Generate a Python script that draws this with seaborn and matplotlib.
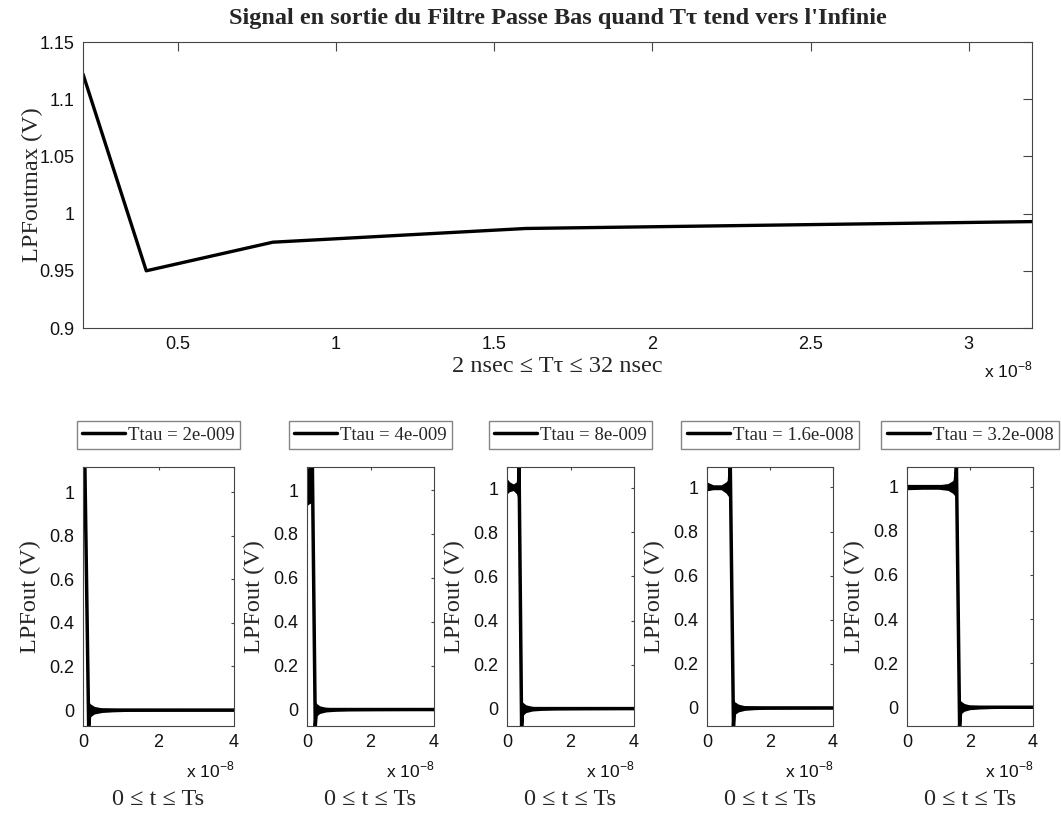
import matplotlib

matplotlib.use("Agg")

import matplotlib.pyplot as plt  # noqa: E402
import seaborn as sns  # noqa: E402
from matplotlib.ticker import FuncFormatter  # noqa: E402

# Valeurs (temps en unites de 1e-8 s)
TTAU_X = [0.2, 0.4, 0.8, 1.6, 3.2]
LPF_MAX = [1.122, 0.950, 0.975, 0.987, 0.993]
TTAU_LABELS = ["2e-009", "4e-009", "8e-009", "1.6e-008", "3.2e-008"]

# trace principale de chaque impulsion filtree
EDGE_T = [
    [0.00, 0.03, 0.05, 0.15, 0.19, 4.00],
    [0.00, 0.12, 0.17, 0.26, 0.30, 4.00],
    [0.00, 0.36, 0.38, 0.46, 0.50, 4.00],
    [0.00, 0.70, 0.74, 0.84, 0.88, 4.00],
    [0.00, 1.52, 1.57, 1.67, 1.71, 4.00],
]
EDGE_V = [
    [0.89, 1.115, 1.115, -0.073, 0.0, 0.0],
    [0.95, 1.02, 1.105, -0.075, 0.0, 0.0],
    [1.00, 1.00, 1.097, -0.079, 0.0, 0.0],
    [1.00, 1.00, 1.093, -0.082, 0.0, 0.0],
    [1.00, 1.00, 1.089, -0.085, 0.0, 0.0],
]

# enveloppe des oscillations pendant l'impulsion
HIGH_T = [
    [0.00, 0.03],
    [0.00, 0.10, 0.18],
    [0.00, 0.08, 0.20, 0.30, 0.37],
    [0.00, 0.20, 0.45, 0.60, 0.73],
    [0.00, 0.50, 1.00, 1.30, 1.45, 1.57],
]
HIGH_LO = [
    [0.89, 0.90],
    [0.93, 0.94, 0.94],
    [0.975, 0.985, 0.99, 0.975, 0.945],
    [0.985, 0.99, 0.99, 0.975, 0.95],
    [0.986, 0.988, 0.988, 0.983, 0.97, 0.95],
]
HIGH_HI = [
    [0.90, 1.115],
    [1.10, 1.105, 1.105],
    [1.045, 1.03, 1.02, 1.03, 1.05],
    [1.025, 1.012, 1.012, 1.025, 1.045],
    [1.010, 1.008, 1.008, 1.014, 1.027, 1.045],
]

# enveloppe des oscillations apres la chute
LOW_T = [
    [0.15, 0.20, 0.30, 0.50, 0.80, 1.20, 2.00, 4.00],
    [0.26, 0.30, 0.40, 0.60, 0.90, 1.30, 2.20, 4.00],
    [0.46, 0.50, 0.60, 0.80, 1.10, 1.50, 2.40, 4.00],
    [0.84, 0.88, 1.00, 1.20, 1.50, 1.90, 2.80, 4.00],
    [1.67, 1.71, 1.82, 2.00, 2.30, 2.70, 3.40, 4.00],
]
TAIL_LO = [-0.045, -0.03, -0.018, -0.011, -0.008, -0.006, -0.005, -0.004]
TAIL_HI = [0.038, 0.028, 0.017, 0.010, 0.008, 0.006, 0.005, 0.004]

Y_MIN = [-0.073, -0.075, -0.079, -0.082, -0.085]
Y_MAX = [1.115, 1.105, 1.097, 1.093, 1.089]

sns.set_theme(style="white")
plt.rcParams["font.family"] = ["Liberation Sans", "DejaVu Sans"]
plt.rcParams["mathtext.fontset"] = "custom"
plt.rcParams["mathtext.rm"] = "Liberation Sans"
SERIF = ["Liberation Serif", "DejaVu Serif"]
AXC = "#454545"

W, H = 1061, 816
fig = plt.figure(figsize=(W / 100, H / 100), dpi=100)


def rect(x0, x1, y0, y1):
    # pixels (origine en haut a gauche) -> coordonnees figure
    return [x0 / W, 1 - y1 / H, (x1 - x0) / W, (y1 - y0) / H]


def style_axes(ax, ticklen):
    for s in ax.spines.values():
        s.set_color(AXC)
        s.set_linewidth(0.8)
    ax.tick_params(direction="in", top=True, right=True, length=ticklen,
                   width=0.8, color=AXC, labelcolor="#111111",
                   labelsize=13, pad=6)
    ax.yaxis.set_major_formatter(FuncFormatter(lambda v, p: f"{v:g}"))
    ax.xaxis.set_major_formatter(FuncFormatter(lambda v, p: f"{v:g}"))


def exp_label(ax, dy):
    ax.text(1.0, dy, r"x 10$^{\mathregular{-8}}$", transform=ax.transAxes,
            ha="right", va="center", fontsize=12.5, color="#111111")


# --- courbe du haut
ax = fig.add_axes(rect(83, 1032, 42, 328))
sns.lineplot(x=TTAU_X, y=LPF_MAX, ax=ax, color="black", lw=2.4,
             sort=False, estimator=None)
ax.set_xlim(0.2, 3.2)
ax.set_ylim(0.9, 1.15)
ax.set_xticks([0.5, 1, 1.5, 2, 2.5, 3])
ax.set_yticks([0.9, 0.95, 1, 1.05, 1.1, 1.15])
style_axes(ax, 6.5)
ax.set_title("Signal en sortie du Filtre Passe Bas quand T\u03c4 tend vers l'Infinie",
             family=SERIF, fontsize=17.5, fontweight="bold", pad=13)
ax.set_xlabel("2 nsec \u2264 T\u03c4 \u2264 32 nsec", family=SERIF, fontsize=17.5,
              labelpad=2)
ax.set_ylabel("LPFoutmax (V)", family=SERIF, fontsize=17.5)
ax.yaxis.set_label_coords(-0.042, 0.5)
exp_label(ax, -0.148)

# --- les cinq impulsions
PANELS = [(83, 234), (307, 434), (507, 634), (707, 833), (907, 1033)]
for i, (x0, x1) in enumerate(PANELS):
    ax = fig.add_axes(rect(x0, x1, 467, 726))
    ax.fill_between(HIGH_T[i], HIGH_LO[i], HIGH_HI[i], color="black", lw=0)
    ax.fill_between(LOW_T[i], TAIL_LO, TAIL_HI, color="black", lw=0)
    sns.lineplot(x=EDGE_T[i], y=EDGE_V[i], ax=ax, color="black", lw=2.5,
                 sort=False, estimator=None, label=f"Ttau = {TTAU_LABELS[i]}")
    ax.set_xlim(0, 4)
    ax.set_ylim(Y_MIN[i], Y_MAX[i])
    ax.set_xticks([0, 2, 4])
    ax.set_yticks([0, 0.2, 0.4, 0.6, 0.8, 1])
    style_axes(ax, 2.2)
    ax.set_xlabel("0 \u2264 t \u2264 Ts", family=SERIF, fontsize=17.5, labelpad=27)
    ax.set_ylabel("LPFout (V)", family=SERIF, fontsize=17.5)
    ax.yaxis.set_label_coords(-42 / (x1 - x0), 0.5)
    exp_label(ax, -0.17)
    leg = ax.legend(loc="lower center", bbox_to_anchor=(0.5, 1.069),
                    borderaxespad=0, frameon=True, fancybox=False,
                    edgecolor="#666666", prop={"family": SERIF, "size": 13.5},
                    handlelength=2.3, handletextpad=0.15, borderpad=0.3)
    leg.get_frame().set_linewidth(1.0)

fig.savefig("out.png", dpi=100, facecolor="white")
